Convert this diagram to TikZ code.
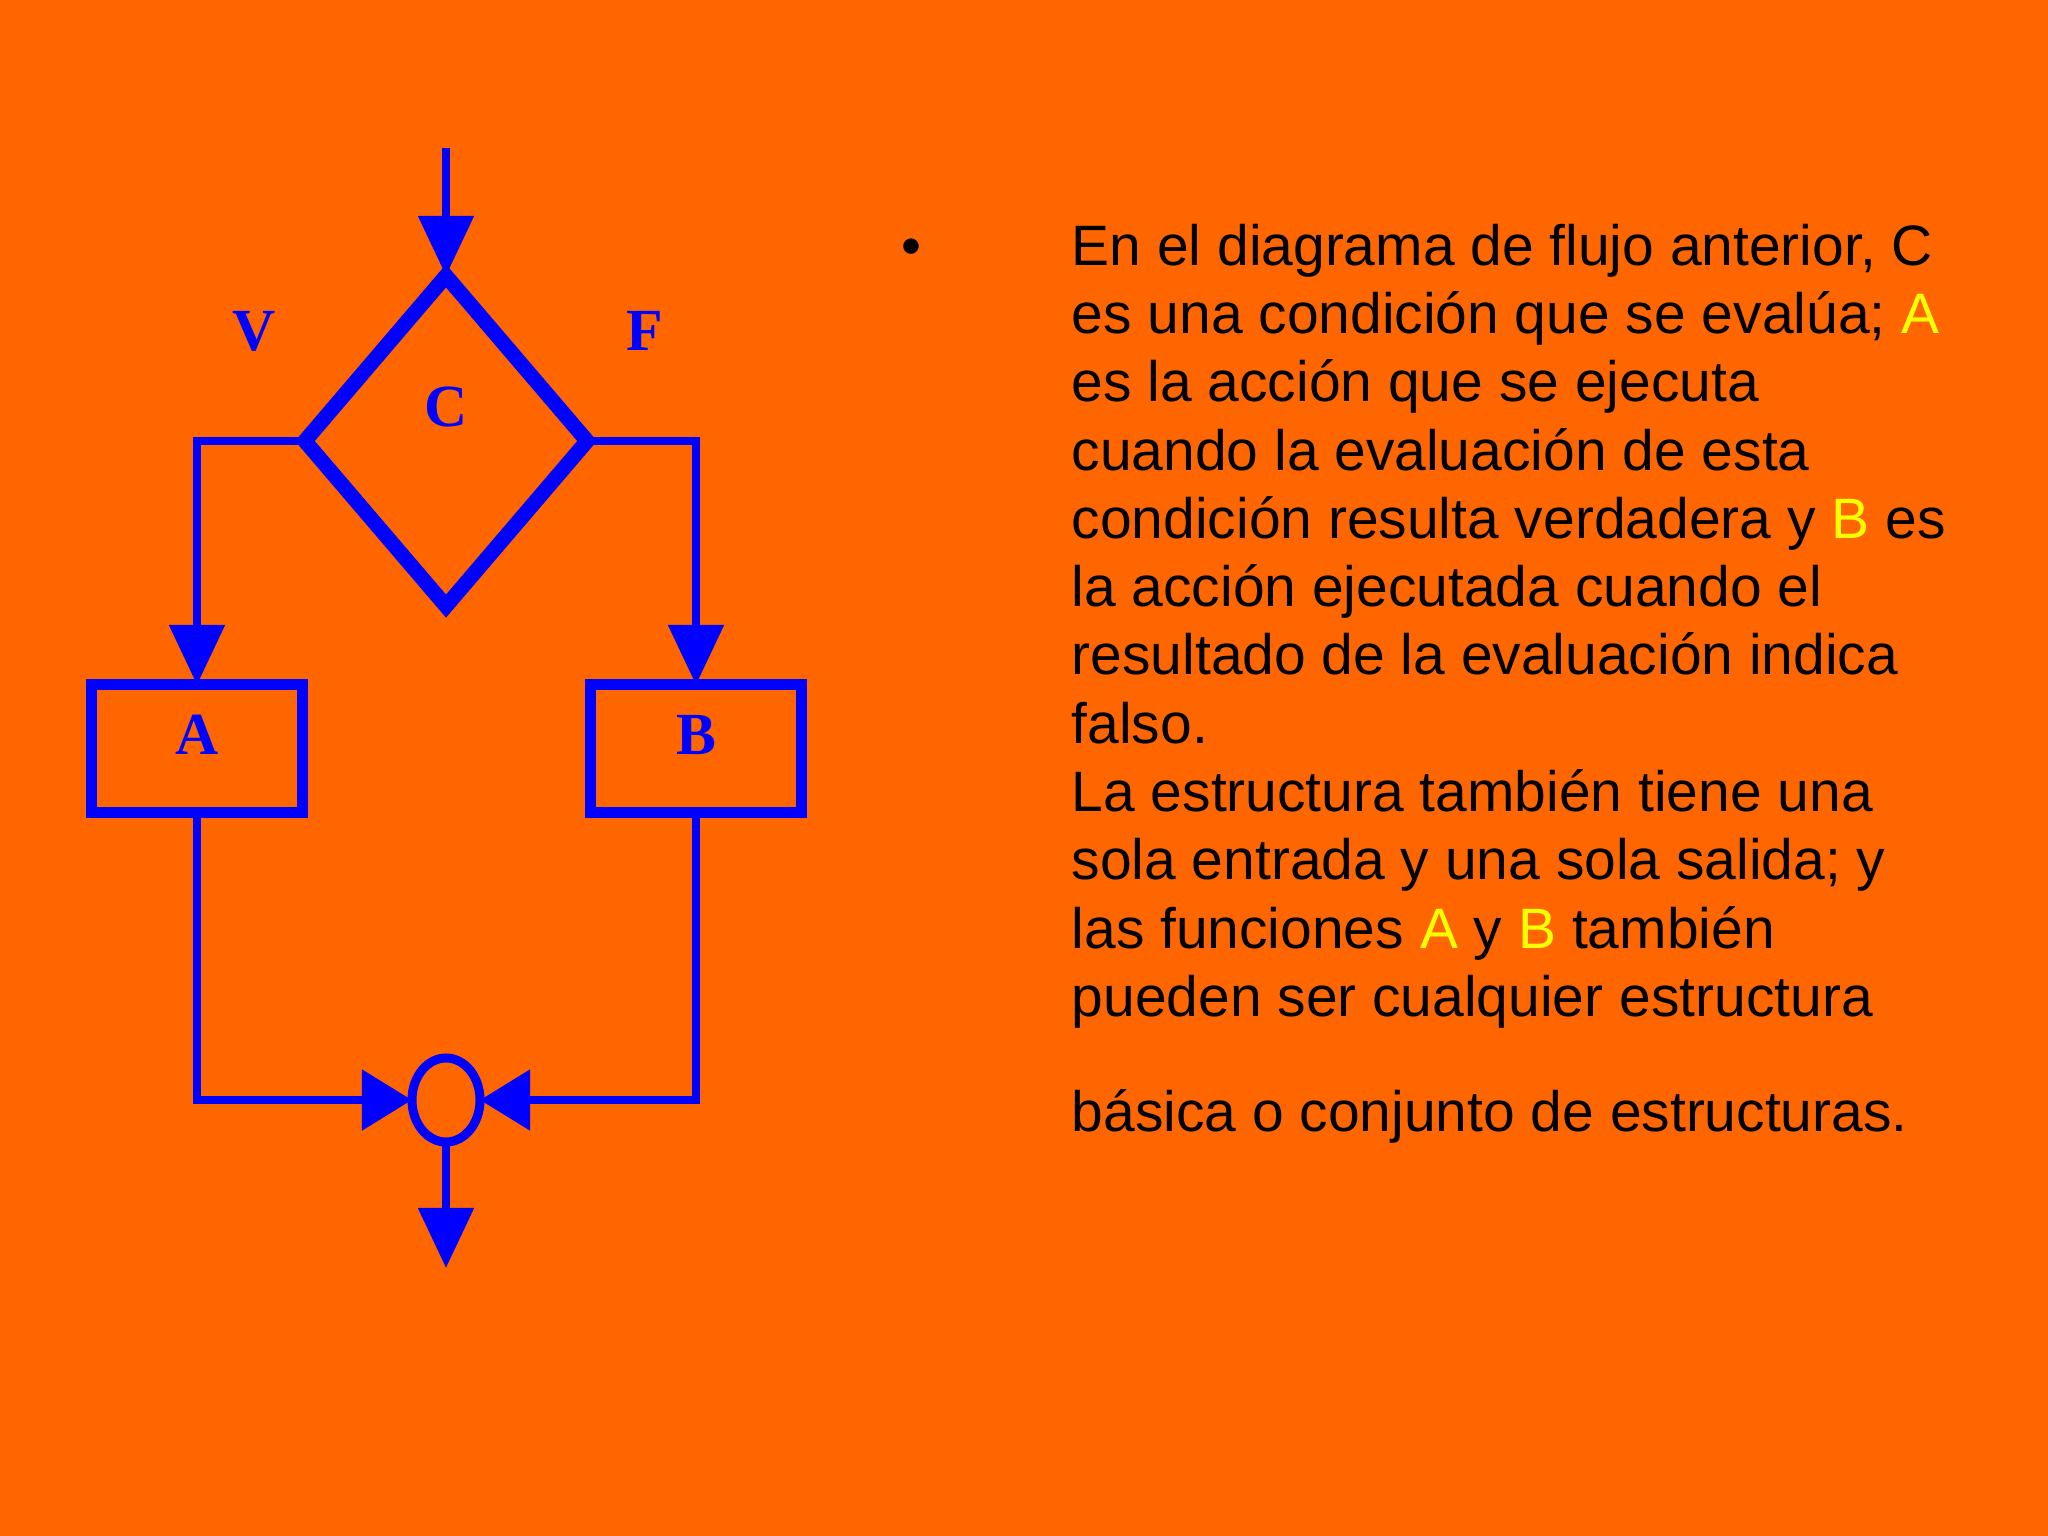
\documentclass[tikz,border=0pt]{standalone}
\usepackage{fontspec}
\setmainfont{Liberation Sans}
\newfontfamily\labfont{Liberation Serif}
\usetikzlibrary{arrows.meta,shapes.geometric}
\definecolor{bgor}{HTML}{FF6600}
\definecolor{fblue}{HTML}{0000FF}
\definecolor{hyel}{HTML}{FFFF00}
\tikzset{
  flow/.style={draw=fblue, line width=0.085cm},
  tipbig/.style={-{Triangle[width=0.54cm,length=0.6cm]}},
  tipside/.style={-{Triangle[width=0.59cm,length=0.5cm]}},
  procbox/.style={draw=fblue, line width=0.11cm, rectangle, minimum width=2.1cm, minimum height=1.27cm, inner sep=0pt, outer sep=0pt},
  lab/.style={text=fblue, font=\labfont\fontsize{17}{17}\selectfont\bfseries, inner sep=0pt},
  txt/.style={anchor=base west, inner sep=0pt, font=\fontsize{16.2}{18}\selectfont, text=black},
}
\newcommand{\hy}[1]{\textcolor{hyel}{#1}}
\begin{document}
\begin{tikzpicture}[x=0.01cm,y=-0.01cm]
\fill[bgor] (0,0) rectangle (2048,1536);
\useasboundingbox (0,0) rectangle (2048,1536);

% diagram
\coordinate (in) at (446,148);
\node[diamond, draw=fblue, line width=0.15cm, minimum width=2.82cm, minimum height=3.3cm, inner sep=0pt, outer sep=0pt] (dC) at (446,441) {};
\node[lab] (C) at (446,407) {C};
\node[lab] (V) at (254,331) {V};
\node[lab] (F) at (645,331) {F};
\node[procbox] (A) at (197,748.5) {};
\node[procbox] (B) at (696,748.5) {};
\node[lab] (Al) at (197,735) {A};
\node[lab] (Bl) at (696,735) {B};
\node[ellipse, draw=fblue, line width=0.09cm, minimum width=0.68cm, minimum height=0.84cm, inner sep=0pt, outer sep=0pt] (J) at (446,1100) {};
\coordinate (out) at (446,1268);

\draw[flow, tipbig] (in) -- (dC.north);
\draw[flow, tipbig] (dC.west) -| (A.north);
\draw[flow, tipbig] (dC.east) -| (B.north);
\draw[flow, tipside] (A.south) |- (J.west);
\draw[flow, tipside] (B.south) |- (J.east);
\draw[flow, tipbig] (J.south) -- (out);

% text
\node[txt] (bul) at (901,265) {•};
\node[txt] (l1) at (1071,265) {En el diagrama de flujo anterior, C};
\node[txt] (l2) at (1071,333.3) {es una condición que se evalúa; \hy{A}};
\node[txt] (l3) at (1071,401.6) {es la acción que se ejecuta};
\node[txt] (l4) at (1071,470) {cuando la evaluación de esta};
\node[txt] (l5) at (1071,538.2) {condición resulta verdadera y \hy{B} es};
\node[txt] (l6) at (1071,606.5) {la acción ejecutada cuando el};
\node[txt] (l7) at (1071,674.8) {resultado de la evaluación indica};
\node[txt] (l8) at (1071,743.1) {falso.};
\node[txt] (l9) at (1071,811.4) {La estructura también tiene una};
\node[txt] (l10) at (1071,879.7) {sola entrada y una sola salida; y};
\node[txt] (l11) at (1071,948) {las funciones \hy{A} y \hy{B} también};
\node[txt] (l12) at (1071,1016.3) {pueden ser cualquier estructura};
\node[txt] (l13) at (1071,1131) {básica o conjunto de estructuras.};
\end{tikzpicture}
\end{document}
